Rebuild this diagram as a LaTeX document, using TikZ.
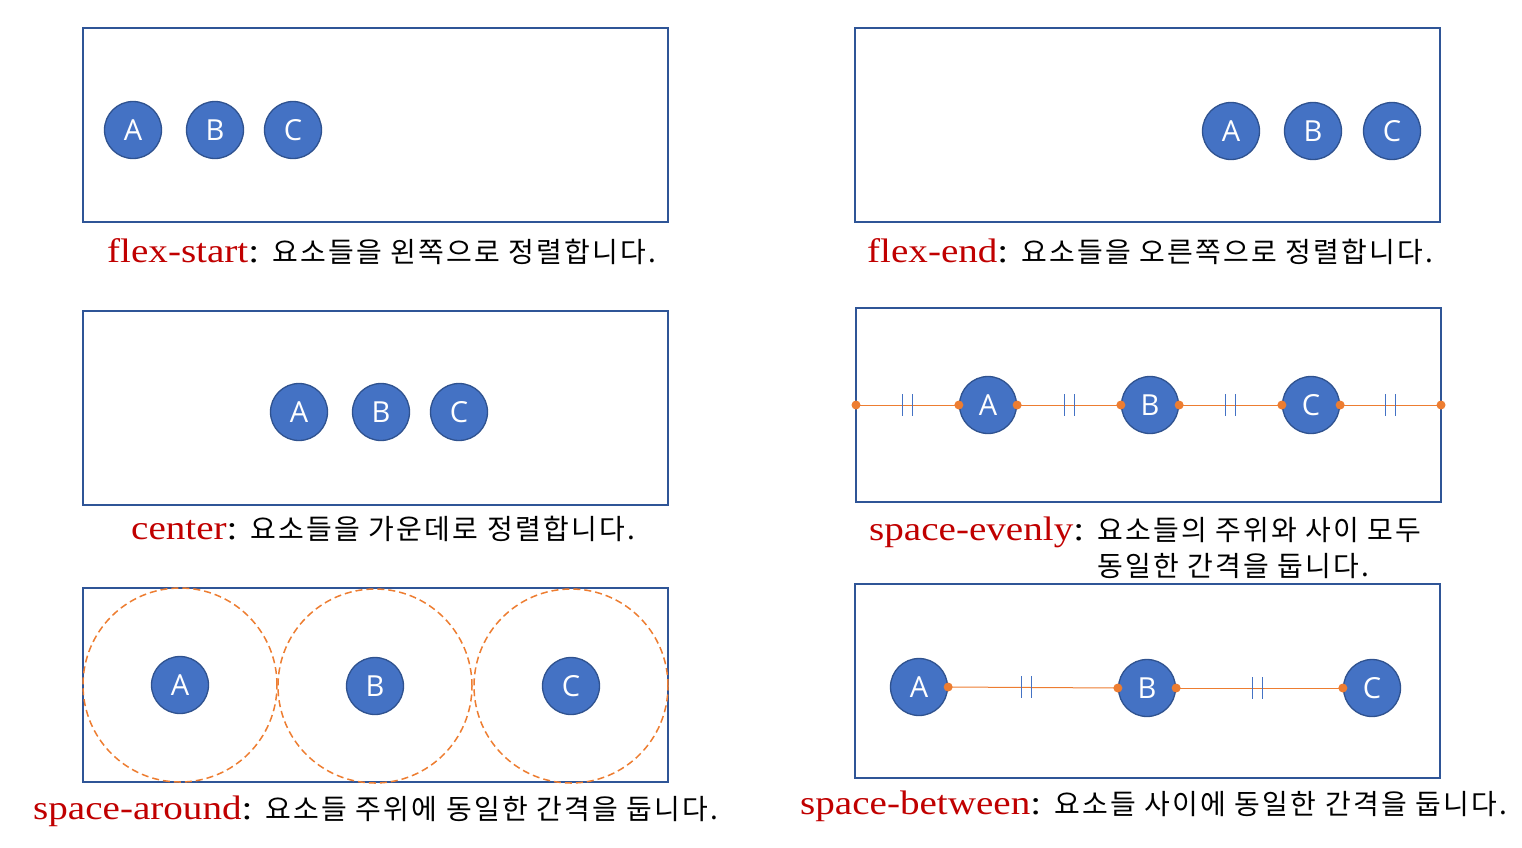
\documentclass[tikz,border=0pt]{standalone}
\usepackage{fontspec}
\setmainfont[FakeStretch=1.15]{Liberation Serif}
\newfontfamily\krfont[LetterSpace=8]{Noto Sans CJK KR}
\newfontfamily\itemfont{Open Sans}
\usetikzlibrary{calc,positioning}
\definecolor{boxblue}{HTML}{2F5597}
\definecolor{itemfill}{HTML}{4472C4}
\definecolor{itemline}{HTML}{2F528F}
\definecolor{gaporange}{HTML}{ED7D31}
\definecolor{labelred}{HTML}{C00000}
\newcommand{\kw}[1]{\textcolor{labelred}{#1}}
\newcommand{\kr}[1]{{\krfont\fontsize{28}{36}\selectfont #1}}
\newcommand{\gapmark}[1]{%
  \draw[tickmark] ($(#1)+(-5,-11)$) -- ++(0,22)
                  ($(#1)+(5,-11)$) -- ++(0,22);}

\begin{document}
\begin{tikzpicture}[x=1pt,y=-1pt,
  box/.style={draw=boxblue,line width=1.8pt},
  item/.style={circle,fill=itemfill,draw=itemline,line width=1.3pt,
    minimum size=57pt,inner sep=0pt,text=white,
    font=\itemfont\fontsize{29}{29}\selectfont},
  gap/.style={draw=gaporange,line width=1pt},
  dot/.style={circle,fill=gaporange,inner sep=0pt,minimum size=9pt},
  ring/.style={draw=gaporange,line width=1.5pt,dash pattern=on 7pt off 4pt},
  tickmark/.style={draw=itemfill,line width=1pt},
  caption/.style={anchor=base west,inner sep=0pt,
    font=\fontsize{34}{36}\selectfont}]
\useasboundingbox (0,0) rectangle (1522,847);

% flex-start
\draw[box] (83,28) rectangle (668,222);
\node[item] (A1) at (133,130) {A};
\node[item] (B1) at (215,130) {B};
\node[item] (C1) at (293,130) {C};
\node[caption] (cap1) at (107,262)
  {\kw{flex-start}: \kr{요소들을 왼쪽으로 정렬합니다.}};

% flex-end
\draw[box] (855,28) rectangle (1440,222);
\node[item] (A2) at (1231,131) {A};
\node[item] (B2) at (1313,131) {B};
\node[item] (C2) at (1392,131) {C};
\node[caption] (cap2) at (867,262)
  {\kw{flex-end}: \kr{요소들을 오른쪽으로 정렬합니다.}};

% center
\draw[box] (83,311) rectangle (668,505);
\node[item] (A3) at (299,412) {A};
\node[item] (B3) at (381,412) {B};
\node[item] (C3) at (459,412) {C};
\node[caption] (cap3) at (131,539)
  {\kw{center}: \kr{요소들을 가운데로 정렬합니다.}};

% space-evenly
\draw[box] (856,308) rectangle (1441,502);
\node[item] (A4) at (988,405) {A};
\node[item] (B4) at (1150,405) {B};
\node[item] (C4) at (1311,405) {C};
\coordinate (L4) at (856,405);
\coordinate (R4) at (1441,405);
\draw[gap] (L4) -- (A4.west) coordinate[midway] (g1);
\draw[gap] (A4.east) -- (B4.west) coordinate[midway] (g2);
\draw[gap] (B4.east) -- (C4.west) coordinate[midway] (g3);
\draw[gap] (C4.east) -- (R4) coordinate[midway] (g4);
\foreach \g in {g1,g2,g3,g4} {\gapmark{\g}}
\foreach \p in {L4,A4.west,A4.east,B4.west,B4.east,C4.west,C4.east,R4}
  \node[dot] at (\p) {};
\node[caption] (cap4) at (869,540)
  {\kw{space-evenly}: \kr{요소들의 주위와 사이 모두}};
\node[caption] (cap4b) at (869,576)
  {\phantom{\kw{space-evenly}: }\kr{동일한 간격을 둡니다.}};

% space-around
\draw[box] (83,588) rectangle (668,782);
\node[item] (A5) at (180,685) {A};
\node[item] (B5) at (375,686) {B};
\node[item] (C5) at (571,686) {C};
\foreach \c in {A5,B5,C5}
  \draw[ring] (\c) circle (97pt);
\node[caption] (cap5) at (33,819)
  {\kw{space-around}: \kr{요소들 주위에 동일한 간격을 둡니다.}};

% space-between
\draw[box] (855,584) rectangle (1440,778);
\node[item] (A6) at (919,687) {A};
\node[item] (B6) at (1147,688) {B};
\node[item] (C6) at (1372,688) {C};
\draw[gap] (A6.east) -- (B6.west) coordinate[pos=0.46] (h1);
\draw[gap] (B6.east) -- (C6.west) coordinate[pos=0.49] (h2);
\foreach \g in {h1,h2} {\gapmark{\g}}
\foreach \p in {A6.east,B6.west,B6.east,C6.west}
  \node[dot] at (\p) {};
\node[caption] (cap6) at (800,814)
  {\kw{space-between}: \kr{요소들 사이에 동일한 간격을 둡니다.}};
\end{tikzpicture}
\end{document}
